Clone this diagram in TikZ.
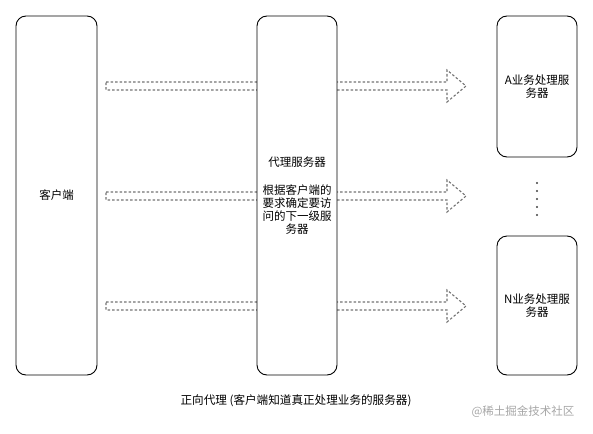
\documentclass[tikz,border=0pt]{standalone}
\usepackage{fontspec}
\setmainfont{Noto Sans CJK SC}
\usetikzlibrary{calc}
\newcommand{\flexarrow}[2]{%
  \draw[flex] ($(#1)+(0,-4)$) -- ($(#2)+(-19,-4)$) -- ($(#2)+(-19,-16)$) -- (#2)
    -- ($(#2)+(-19,16)$) -- ($(#2)+(-19,4)$) -- ($(#1)+(0,4)$) -- cycle;}
\begin{document}
\begin{tikzpicture}[x=1pt,y=-1pt,
  box/.style={draw=black, fill=white, line width=0.9pt, rounded corners=10pt, inner sep=0pt, align=center,
    font=\fontsize{11.5}{13}\selectfont},
  lbl/.style={font=\fontsize{11.5}{13}\selectfont, align=center, inner sep=0pt},
  flex/.style={draw=black!55, dash pattern=on 2.5pt off 2pt, line width=1.1pt},
  dot/.style={circle, fill=black!75, inner sep=0pt, minimum size=2.2pt}]
\useasboundingbox (0,0) rectangle (593,433);
% boxes
\node[box, minimum width=81pt, minimum height=359pt] (client) at (56.5,195.5) {客户端};
\node[box, minimum width=80pt, minimum height=141pt] (srvA) at (537,86.5) {A业务处理服\\务器};
\node[box, minimum width=80pt, minimum height=139pt] (srvN) at (537,305.5) {N业务处理服\\务器};
% dots
\foreach \i/\yy in {1/183,2/191,3/199,4/207,5/215} {\node[dot] (d\i) at (537,\yy) {};}
% arrows
\coordinate (s1) at (106,86);  \coordinate (e1) at (466,86);
\coordinate (s2) at (106,196); \coordinate (e2) at (466,196);
\coordinate (s3) at (106,306); \coordinate (e3) at (466,306);
\flexarrow{s1}{e1}
\flexarrow{s2}{e2}
\flexarrow{s3}{e3}
% proxy box on top of arrows
\node[box, minimum width=80pt, minimum height=359pt] (proxy) at (297,195.5) {};
\node[lbl] (ptitle) at (297,162) {代理服务器};
\node[lbl] (pdesc) at (297,210) {根据客户端的\\要求确定要访\\问的下一级服\\务器};
% captions
\node[lbl, font=\fontsize{11.6}{13}\selectfont] (cap) at (296,401) {正向代理 (客户端知道真正处理业务的服务器)};
\node[lbl, font=\fontsize{11.5}{13}\selectfont, text=black!35] (wm) at (523,412) {@稀土掘金技术社区};
\end{tikzpicture}
\end{document}
